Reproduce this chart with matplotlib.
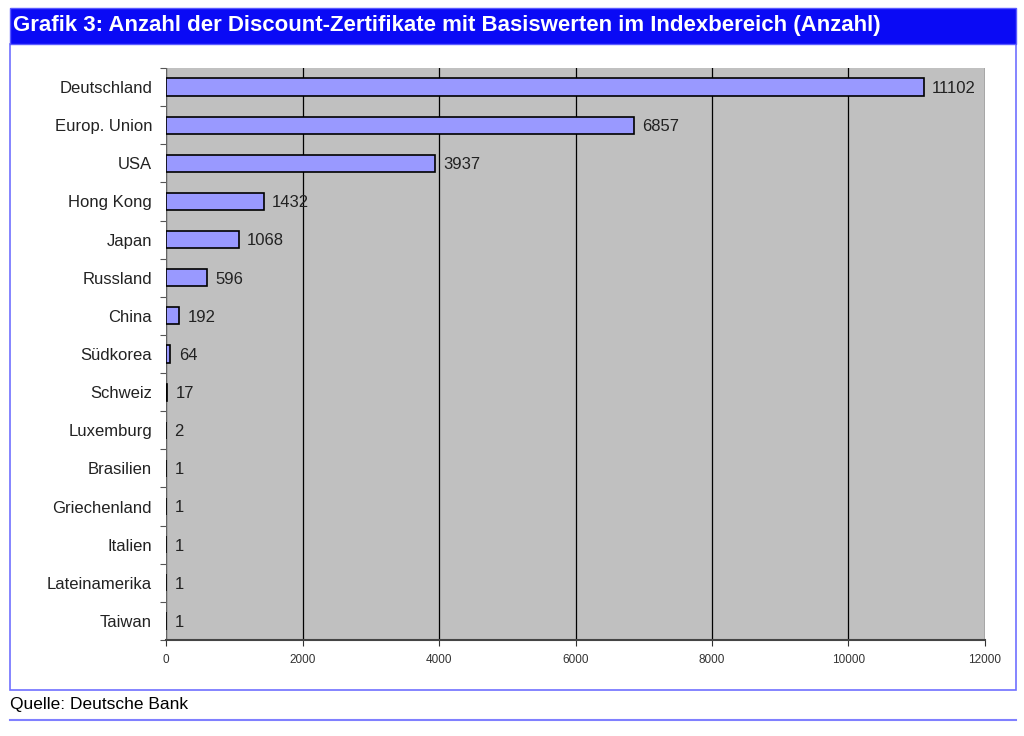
import matplotlib
matplotlib.use("Agg")
import matplotlib.pyplot as plt
from matplotlib.patches import Rectangle
from matplotlib.lines import Line2D

categories = ["Deutschland", "Europ. Union", "USA", "Hong Kong", "Japan", "Russland",
              "China", "Südkorea", "Schweiz", "Luxemburg", "Brasilien", "Griechenland",
              "Italien", "Lateinamerika", "Taiwan"]
values = [11102, 6857, 3937, 1432, 1068, 596, 192, 64, 17, 2, 1, 1, 1, 1, 1]
xticks = [0, 2000, 4000, 6000, 8000, 10000, 12000]

plt.rcParams['font.family'] = ['Liberation Sans', 'DejaVu Sans']

W, H = 1024, 736
fig = plt.figure(figsize=(W / 100, H / 100), dpi=100)

def fx(px):
    return px / W

def fy(py):
    return 1 - py / H

# Title bar
fig.patches.append(Rectangle((fx(10), fy(44)), fx(1016) - fx(10), fy(8) - fy(44),
                             transform=fig.transFigure, facecolor="#0a0af5",
                             edgecolor="#5a5aff", lw=1, zorder=0))
fig.text(fx(13), fy(26), "Grafik 3: Anzahl der Discount-Zertifikate mit Basiswerten im Indexbereich (Anzahl)",
         color="white", fontsize=16, fontweight="bold", va="center", ha="left")

# Panel border
fig.patches.append(Rectangle((fx(10), fy(690)), fx(1016) - fx(10), fy(44) - fy(690),
                             transform=fig.transFigure, facecolor="white",
                             edgecolor="#6f6fff", lw=1.2, zorder=-1))

# Source and bottom line
fig.text(fx(10), fy(704), "Quelle: Deutsche Bank", fontsize=12.5, va="center", ha="left")
fig.lines.append(Line2D([fx(10), fx(1016)], [fy(720), fy(720)], transform=fig.transFigure,
                        color="#8080ff", lw=1.5))

ax = fig.add_axes([fx(166), fy(640), fx(985) - fx(166), fy(68) - fy(640)])
ax.set_facecolor("#c0c0c0")
ypos = list(range(len(categories)))
ax.barh(ypos, values, height=0.45, color="#9999ff", edgecolor="black", linewidth=1.2, zorder=3)
ax.set_ylim(len(categories) - 0.5, -0.5)
ax.set_xlim(0, 12000)
ax.set_xticks(xticks)
ax.set_xticklabels([str(t) for t in xticks], fontsize=8.5, color="#333333", fontstretch="condensed")
ax.grid(axis="x", color="black", lw=0.9, zorder=1)
ax.set_yticks([i - 0.5 for i in range(len(categories) + 1)], minor=False)
ax.set_yticklabels([])
ax.set_yticks(ypos, minor=True)
ax.set_yticklabels(categories, minor=True, fontsize=12, color="#222222")
ax.tick_params(axis="y", which="minor", length=0, pad=10)
ax.tick_params(axis="y", which="major", length=4, color="#555555", width=0.8)
ax.tick_params(axis="x", length=4, color="#333333", pad=6)
for s in ["top", "right"]:
    ax.spines[s].set_visible(False)
ax.spines["left"].set_color("#666666")
ax.spines["left"].set_linewidth(0.7)
ax.spines["bottom"].set_color("#444444")
ax.spines["bottom"].set_linewidth(1.5)

for y, v in zip(ypos, values):
    ax.annotate(str(v), xy=(v, y), xytext=(6, -1), textcoords="offset points",
                va="center", ha="left", fontsize=12, color="#222222", zorder=4)

fig.savefig("out.png", dpi=100)
